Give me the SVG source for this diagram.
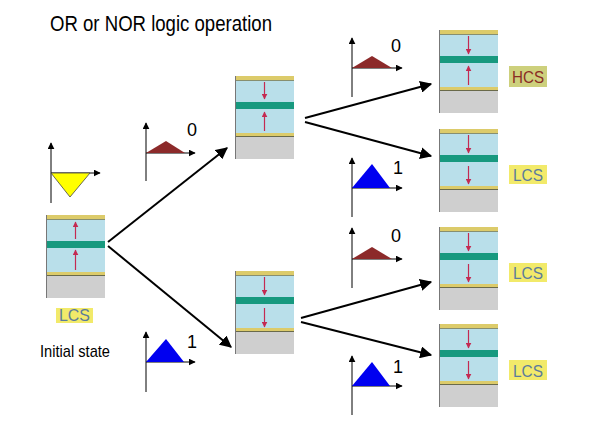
<svg xmlns="http://www.w3.org/2000/svg" xmlns:xlink="http://www.w3.org/1999/xlink" width="601" height="425" viewBox="0 0 601 425">
  <style>
    .title { font-family: "Liberation Sans", Arial, sans-serif; font-size: 22px; fill: #000; }
    .note { font-family: "Liberation Sans", Arial, sans-serif; font-size: 17px; fill: #000; }
    .digit { font-family: "Liberation Sans", Arial, sans-serif; font-size: 18px; fill: #000; }
    .lbl { font-family: "Liberation Sans", Arial, sans-serif; font-size: 17px; text-anchor: middle; }
    .lcs-box { fill: #f2ea6a; }
    .hcs-box { fill: #cdd07c; }
    .lcs-txt { fill: #5c7c9c; }
    .hcs-txt { fill: #8a2c24; }
    .axis { stroke: #000; stroke-width: 1; fill: none; }
    .conn { stroke: #000; stroke-width: 2; fill: none; marker-end: url(#bigHead); }
    .spin { stroke: #c42a52; stroke-width: 1.2; fill: none; marker-end: url(#spinHead); }
  </style>
  <defs>
    <marker id="bigHead" viewBox="0 0 10 10" refX="9" refY="5" markerWidth="6" markerHeight="6" markerUnits="strokeWidth" orient="auto">
      <path d="M0,0 L10,5 L0,10 z" fill="#000"/>
    </marker>
    <marker id="axHead" viewBox="0 0 10 10" refX="9" refY="5" markerWidth="7" markerHeight="7" markerUnits="userSpaceOnUse" orient="auto">
      <path d="M0,0 L10,5 L0,10 z" fill="#000"/>
    </marker>
    <marker id="spinHead" viewBox="0 0 10 10" refX="9" refY="5" markerWidth="6" markerHeight="6" markerUnits="userSpaceOnUse" orient="auto">
      <path d="M0,0 L10,5 L0,10 z" fill="#c42a52"/>
    </marker>
    <!-- layered junction: electrode / free layer / barrier / reference layer / electrode / substrate -->
    <g id="stack">
      <rect x="0" y="0" width="59" height="83" fill="#cfcfcf"/>
      <rect x="0" y="0" width="59" height="4" fill="#dccb6a"/>
      <rect x="0" y="4" width="59" height="53" fill="#b9dfea"/>
      <rect x="0" y="26" width="59" height="7" fill="#17997f"/>
      <rect x="0" y="57" width="59" height="4" fill="#dccb6a"/>
      <line x1="0" y1="4.5" x2="59" y2="4.5" stroke="#7a7a50" stroke-width="0.8"/>
      <line x1="0" y1="60.5" x2="59" y2="60.5" stroke="#6a6a4a" stroke-width="1"/>
      <line x1="0.5" y1="0" x2="0.5" y2="83" stroke="#777" stroke-width="1"/>
    </g>
  </defs>

  <rect width="601" height="425" fill="#fff"/>

  <text class="title" x="50" y="31" textLength="222" lengthAdjust="spacingAndGlyphs">OR or NOR logic operation</text>

  <!-- junction states -->
  <g id="node-initial">
    <use xlink:href="#stack" x="46" y="215"/>
    <line class="spin" x1="75.5" y1="239" x2="75.5" y2="222"/>
    <line class="spin" x1="75.5" y1="270" x2="75.5" y2="250"/>
    <rect class="lcs-box" x="56" y="308" width="37" height="15"/>
    <text class="lbl lcs-txt" x="74.5" y="321" textLength="31" lengthAdjust="spacingAndGlyphs">LCS</text>
    <text class="note" x="40" y="357" textLength="70" lengthAdjust="spacingAndGlyphs">Initial state</text>
  </g>

  <g id="node-mid-upper">
    <use xlink:href="#stack" x="235" y="76"/>
    <line class="spin" x1="264.5" y1="82" x2="264.5" y2="99"/>
    <line class="spin" x1="264.5" y1="131" x2="264.5" y2="112"/>
  </g>

  <g id="node-mid-lower">
    <use xlink:href="#stack" x="235" y="271"/>
    <line class="spin" x1="264.5" y1="277" x2="264.5" y2="295"/>
    <line class="spin" x1="264.5" y1="308" x2="264.5" y2="327"/>
  </g>

  <g id="node-r1">
    <use xlink:href="#stack" x="439" y="30"/>
    <line class="spin" x1="468.5" y1="36" x2="468.5" y2="54"/>
    <line class="spin" x1="468.5" y1="85" x2="468.5" y2="66"/>
    <rect class="hcs-box" x="509" y="66" width="38" height="21"/>
    <text class="lbl hcs-txt" x="528" y="83" textLength="32" lengthAdjust="spacingAndGlyphs">HCS</text>
  </g>

  <g id="node-r2">
    <use xlink:href="#stack" x="439" y="129"/>
    <line class="spin" x1="468.5" y1="135" x2="468.5" y2="153"/>
    <line class="spin" x1="468.5" y1="166" x2="468.5" y2="184"/>
    <rect class="lcs-box" x="509" y="165" width="38" height="19"/>
    <text class="lbl lcs-txt" x="528" y="181" textLength="30" lengthAdjust="spacingAndGlyphs">LCS</text>
  </g>

  <g id="node-r3">
    <use xlink:href="#stack" x="439" y="227"/>
    <line class="spin" x1="468.5" y1="233" x2="468.5" y2="251"/>
    <line class="spin" x1="468.5" y1="264" x2="468.5" y2="282"/>
    <rect class="lcs-box" x="509" y="263" width="38" height="19"/>
    <text class="lbl lcs-txt" x="528" y="279" textLength="30" lengthAdjust="spacingAndGlyphs">LCS</text>
  </g>

  <g id="node-r4">
    <use xlink:href="#stack" x="439" y="324"/>
    <line class="spin" x1="468.5" y1="330" x2="468.5" y2="348"/>
    <line class="spin" x1="468.5" y1="361" x2="468.5" y2="379"/>
    <rect class="lcs-box" x="509" y="360" width="38" height="20"/>
    <text class="lbl lcs-txt" x="528" y="377" textLength="30" lengthAdjust="spacingAndGlyphs">LCS</text>
  </g>

  <!-- input pulses -->
  <g id="pulse-init">
    <line class="axis" x1="51" y1="203" x2="51" y2="143" marker-end="url(#axHead)"/>
    <line class="axis" x1="51" y1="173" x2="100" y2="173" marker-end="url(#axHead)"/>
    <polygon points="51,173 90,173 70,197" fill="#ffff00" stroke="#444" stroke-width="0.8"/>
  </g>

  <g id="pulse-a0">
    <line class="axis" x1="146" y1="181" x2="146" y2="123" marker-end="url(#axHead)"/>
    <line class="axis" x1="146" y1="153" x2="195" y2="153" marker-end="url(#axHead)"/>
    <polygon points="146,153 166,141 185,153" fill="#8c2a2a"/>
    <text class="digit" x="187" y="136">0</text>
  </g>

  <g id="pulse-a1">
    <line class="axis" x1="146" y1="392" x2="146" y2="332" marker-end="url(#axHead)"/>
    <line class="axis" x1="146" y1="362" x2="195" y2="362" marker-end="url(#axHead)"/>
    <polygon points="146,362 166,339 184,362" fill="#0000f0"/>
    <text class="digit" x="187" y="348">1</text>
  </g>

  <g id="pulse-b0-upper">
    <line class="axis" x1="352" y1="97" x2="352" y2="38" marker-end="url(#axHead)"/>
    <line class="axis" x1="352" y1="68" x2="402" y2="68" marker-end="url(#axHead)"/>
    <polygon points="352,68 372,56 392,68" fill="#8c2a2a"/>
    <text class="digit" x="391" y="52">0</text>
  </g>

  <g id="pulse-b1-upper">
    <line class="axis" x1="352" y1="217" x2="352" y2="158" marker-end="url(#axHead)"/>
    <line class="axis" x1="352" y1="188" x2="402" y2="188" marker-end="url(#axHead)"/>
    <polygon points="352,188 372,164 390,188" fill="#0000f0"/>
    <text class="digit" x="393" y="174">1</text>
  </g>

  <g id="pulse-b0-lower">
    <line class="axis" x1="352" y1="288" x2="352" y2="228" marker-end="url(#axHead)"/>
    <line class="axis" x1="352" y1="259" x2="402" y2="259" marker-end="url(#axHead)"/>
    <polygon points="352,259 372,247 392,259" fill="#8c2a2a"/>
    <text class="digit" x="391" y="242">0</text>
  </g>

  <g id="pulse-b1-lower">
    <line class="axis" x1="352" y1="415" x2="352" y2="356" marker-end="url(#axHead)"/>
    <line class="axis" x1="352" y1="386" x2="402" y2="386" marker-end="url(#axHead)"/>
    <polygon points="352,386 372,362 390,386" fill="#0000f0"/>
    <text class="digit" x="393" y="373">1</text>
  </g>

  <!-- transitions -->
  <g id="connectors">
    <line class="conn" x1="108" y1="242" x2="227" y2="148"/>
    <line class="conn" x1="108" y1="246" x2="231" y2="347"/>
    <line class="conn" x1="305" y1="118" x2="431" y2="84"/>
    <line class="conn" x1="305" y1="122" x2="431" y2="156"/>
    <line class="conn" x1="301" y1="318" x2="431" y2="282"/>
    <line class="conn" x1="301" y1="322" x2="431" y2="355"/>
  </g>
</svg>
